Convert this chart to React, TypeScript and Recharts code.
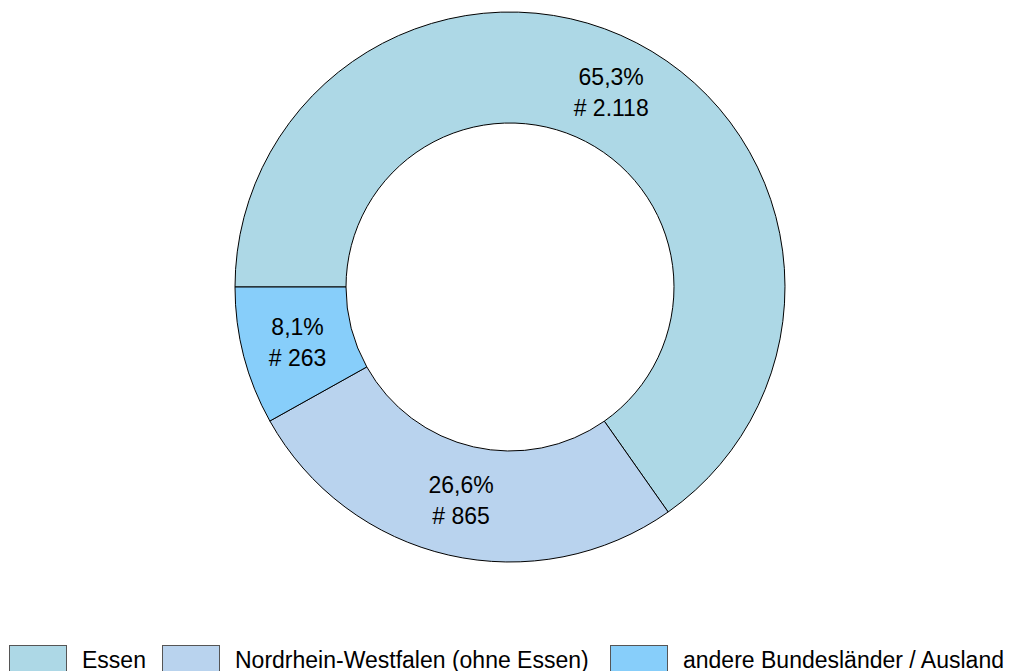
import { PieChart, Pie, Cell, Legend } from 'recharts';

const categories = ['Essen', 'Nordrhein-Westfalen (ohne Essen)', 'andere Bundesländer / Ausland'];
const counts = [2118, 865, 263];
const percents = [65.3, 26.6, 8.1];
const colors = ['#ADD8E6', '#B9D3EE', '#87CEFA'];

// legend item widths (box + gap + text + spacing), in px
const legendItemWidths = [153, 448, 400];

const data = categories.map((name, i) => ({ name, value: counts[i], pct: percents[i] }));

const fmtPct = (v: number) => `${v.toFixed(1).replace('.', ',')}%`;
const fmtNum = (v: number) => `# ${v.toLocaleString('de-DE')}`;

const RADIAN = Math.PI / 180;

function renderLabel(props: any) {
  const { cx, cy, midAngle, innerRadius, outerRadius, index } = props;
  const r = (innerRadius + outerRadius) / 2;
  const x = cx + r * Math.cos(-midAngle * RADIAN);
  const y = cy + r * Math.sin(-midAngle * RADIAN);
  const d = data[index];
  return (
    <g>
      <text x={x} y={y - 15.5} textAnchor="middle" dominantBaseline="central" fill="#000" fontSize={23}>
        {fmtPct(d.pct)}
      </text>
      <text x={x} y={y + 15.5} textAnchor="middle" dominantBaseline="central" fill="#000" fontSize={23}>
        {fmtNum(d.value)}
      </text>
    </g>
  );
}

function renderLegend() {
  return (
    <div style={{ display: 'flex', alignItems: 'center', paddingLeft: 9 }}>
      {categories.map((c, i) => (
        <div key={c} style={{ display: 'flex', alignItems: 'center', width: legendItemWidths[i], flexShrink: 0 }}>
          <div
            style={{
              width: 56,
              height: 28,
              flexShrink: 0,
              background: colors[i],
              border: '1px solid #555',
            }}
          />
          <span style={{ marginLeft: 15, fontSize: 23, color: '#000', whiteSpace: 'nowrap' }}>{c}</span>
        </div>
      ))}
    </div>
  );
}

export default function App() {
  return (
    <div
      style={{
        position: 'absolute',
        left: 0,
        top: 0,
        width: 1012,
        height: 671,
        overflow: 'hidden',
        background: '#fff',
        fontFamily: '"Liberation Sans", Arial, sans-serif',
      }}
    >
      <PieChart width={1012} height={671} margin={{ top: 0, right: 0, bottom: 0, left: 0 }}>
        <Pie
          data={data}
          dataKey="value"
          nameKey="name"
          cx={510}
          cy={287}
          innerRadius={164}
          outerRadius={275}
          startAngle={180}
          endAngle={-180}
          paddingAngle={0}
          stroke="#000"
          strokeWidth={1}
          label={renderLabel}
          labelLine={false}
          isAnimationActive={false}
        >
          {data.map((d, i) => (
            <Cell key={d.name} fill={colors[i]} />
          ))}
        </Pie>
        <Legend
          content={renderLegend}
          wrapperStyle={{ position: 'absolute', left: 0, top: 645, width: 1012 }}
        />
      </PieChart>
    </div>
  );
}
